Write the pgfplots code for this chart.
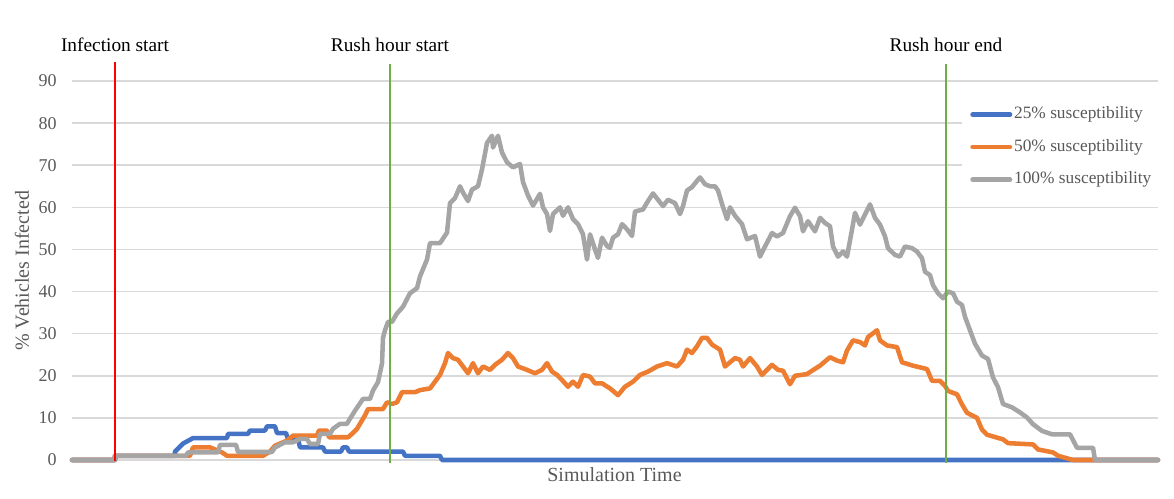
\documentclass[border=0pt]{standalone}
\usepackage{fontspec}
\setmainfont{Liberation Serif}
\usepackage{pgfplots}
\pgfplotsset{compat=1.18}
\definecolor{sblue}{HTML}{4472C4}
\definecolor{sorange}{HTML}{ED7D31}
\definecolor{sgray}{HTML}{A5A5A5}
\definecolor{gridgray}{HTML}{D9D9D9}
\definecolor{txtgray}{HTML}{595959}
\definecolor{vgreen}{HTML}{70AD47}
\begin{document}
\begin{tikzpicture}
\useasboundingbox (0,0) rectangle (880.5pt,374.25pt);
\begin{axis}[
  scale only axis,
  width=814.5pt, height=284.25pt,
  at={(54pt,29.25pt)}, anchor=south west,
  xmin=72, xmax=1158, ymin=0, ymax=90,
  clip=false,
  xtick=\empty,
  ytick={0,10,...,90},
  ymajorgrids,
  grid style={color=gridgray, line width=1.1pt},
  axis line style={draw=none},
  major tick length=0pt,
  yticklabel style={/pgf/number format/assume math mode=true, font=\fontsize{13.5}{16}\selectfont, color=txtgray, inner sep=0pt, anchor=east, xshift=-11.25pt},
  legend image code/.code={\draw[#1, line cap=round] (1.7pt,0pt) -- (29.8pt,0pt);},
  legend cell align=left,
  legend style={at={(axis cs:962,85.9)}, anchor=north west, draw=none, fill=white,
    font=\fontsize{13}{15.6}\selectfont, text=txtgray, inner sep=6pt,
    nodes={inner sep=0pt, text height=9pt, text depth=3pt},
    row sep=12.4pt, column sep=1.4pt},
  every axis plot/.append style={line join=round, line cap=round},
]
\addplot[sblue, line width=3.4pt] coordinates {
(72,0) (115,0) (115,1) (175,1) (175,2) (183,3.9) (193,5.2) (227,5.2) (228,6.2) (248,6.2)
(250,7) (265,7) (267,8) (275,8) (277,6.4) (286,6.4) (288,5) (298,5) (300,3) (323,3)
(325,2) (341,2) (343,3) (347,3) (349,2) (403,2) (405,1) (440,1) (442,0) (1158,0)
};
\addlegendentry{25\% susceptibility}
\addplot[sorange, line width=3.4pt] coordinates {
(72,0) (115,0) (115,1) (190,1) (193,3) (210,3) (222,1.8) (227,1) (263,1) (270,2)
(275,3.4) (287,4.6) (293,5.8) (317,5.8) (319,7) (327,7) (329,5.4) (348,5.4) (352,6.2) (357,7.4)
(360,8.6) (365,10.6) (368,12.1) (383,12.1) (387,13.7) (392,13.3) (397,13.7) (402,16.1) (415,16.1) (420,16.6)
(430,17) (435,18.6) (440,20.2) (445,23) (448,25.4) (453,24.2) (458,23.8) (463,22.2) (468,20.6) (473,23)
(478,20.6) (483,22.2) (490,21.4) (495,22.6) (502,23.8) (508,25.4) (513,24.2) (518,22.2) (527,21.4) (535,20.6)
(542,21.4) (547,23) (552,21) (557,20.2) (562,19) (568,17.4) (573,18.6) (578,17.4) (583,20.2) (590,19.8)
(595,18.2) (602,18.2) (610,17) (618,15.4) (625,17.4) (633,18.6) (640,20.2) (648,21) (657,22.2) (667,23)
(677,22.2) (683,23.8) (687,26.2) (692,25.4) (697,27) (702,29) (707,29) (712,27.4) (720,26.2) (725,22.2)
(735,24.2) (740,23.8) (743,22.2) (750,24.2) (757,22.2) (762,20.2) (772,22.6) (778,21.4) (783,21.2) (790,18)
(795,20) (807,20.4) (812,21.2) (820,22.4) (830,24.4) (837,23.6) (843,23.2) (847,26) (853,28.4) (860,28)
(865,27.2) (868,29.2) (877,30.8) (880,28.4) (887,27.2) (897,26.8) (902,23.2) (913,22.4) (927,21.6) (932,18.8)
(940,18.8) (945,17.6) (948,16.4) (957,15.6) (962,13.2) (967,11.2) (977,10) (982,7.2) (987,6) (1003,4.9)
(1008,4) (1033,3.7) (1038,2.5) (1053,1.8) (1058,1) (1073,0) (1158,0)
};
\addlegendentry{50\% susceptibility}
\addplot[sgray, line width=3.4pt] coordinates {
(72,0) (115,0) (115,1) (186,1) (188,1.8) (218,1.8) (220,3.6) (236,3.6) (238,1.9) (272,1.9)
(275,3) (285,4.2) (293,4.2) (300,5) (307,5) (310,3.8) (318,3.8) (320,6.2) (330,6.2) (333,7.4)
(340,8.6) (347,8.6) (350,9.8) (355,11.7) (363,14.5) (370,14.5) (373,16.5) (378,18.5) (382,22.9) (383,29)
(385,30.8) (388,32.8) (392,32.8) (397,34.8) (403,36.4) (410,39.6) (417,40.8) (420,43.6) (427,47.6) (430,51.5)
(440,51.5) (447,54) (450,61) (455,62.2) (460,65) (463,63.5) (468,61.5) (472,64.2) (478,65) (482,69)
(487,75.3) (492,77) (493,74.2) (498,77) (502,73) (507,70.7) (513,69.5) (520,70.3) (523,66) (528,62.8)
(533,60.4) (540,63.2) (543,60) (547,58.4) (550,54.4) (553,58.4) (560,60) (563,58) (568,60) (573,57.2)
(578,56) (583,53.6) (587,47.6) (590,53.6) (595,50) (598,48) (602,52.8) (607,50.8) (610,50.4) (613,52.8)
(618,53.6) (622,56) (627,54.8) (632,53.2) (635,59) (643,59.5) (648,61.5) (653,63.3) (658,61.8) (663,60.3)
(668,61.8) (675,61) (680,58.4) (683,60.3) (687,64) (692,64.8) (697,66.3) (700,67.1) (705,65.5) (710,65)
(715,65) (718,64) (722,60.8) (727,57.2) (730,60) (735,58) (742,56) (747,52.4) (755,53.2) (760,48.3)
(765,50.7) (772,53.9) (777,53.1) (783,53.9) (790,57.9) (795,59.9) (800,57.9) (803,54.3) (808,56.7) (815,54.3)
(820,57.5) (825,56.3) (830,55.5) (833,50.7) (838,48.3) (843,49.5) (847,48.3) (852,54.7) (855,58.7) (860,55.9)
(865,58.3) (870,60.7) (875,57.5) (880,55.9) (885,53.1) (888,50.3) (895,48.7) (900,48.3) (905,50.7) (912,50.3)
(917,49.5) (922,47.9) (925,44.7) (930,43.9) (933,41.5) (938,39.6) (943,38.4) (948,40) (953,39.6) (957,37.6)
(962,36.8) (965,34) (970,30.8) (975,27.6) (982,24.8) (988,24) (993,19.6) (998,17.3) (1003,13.3) (1012,12.5)
(1020,11.3) (1027,10.1) (1033,8.5) (1042,6.9) (1052,6.1) (1070,6.1) (1077,2.9) (1093,2.9) (1095,0) (1158,0)
};
\addlegendentry{100\% susceptibility}
\addplot[red, line width=1pt, line cap=butt, forget plot] coordinates {(115,-0.2) (115,94.5)};
\addplot[vgreen, line width=1pt, line cap=butt, forget plot] coordinates {(390,-0.7) (390,94)};
\addplot[vgreen, line width=1pt, line cap=butt, forget plot] coordinates {(946,-0.7) (946,94)};
\node[anchor=base, font=\fontsize{14.5}{17}\selectfont] at (axis cs:115,97.1) {Infection start};
\node[anchor=base, font=\fontsize{14.5}{17}\selectfont] at (axis cs:390,97.1) {Rush hour start};
\node[anchor=base, font=\fontsize{14.5}{17}\selectfont] at (axis cs:946,97.1) {Rush hour end};
\node[rotate=90, font=\fontsize{15}{18}\selectfont, text=txtgray] at (axis cs:22,44.9) {\% Vehicles Infected};
\node[anchor=base, font=\fontsize{15}{18}\selectfont, text=txtgray] at (axis cs:614.5,-5.15) {Simulation Time};
\end{axis}
\end{tikzpicture}
\end{document}
